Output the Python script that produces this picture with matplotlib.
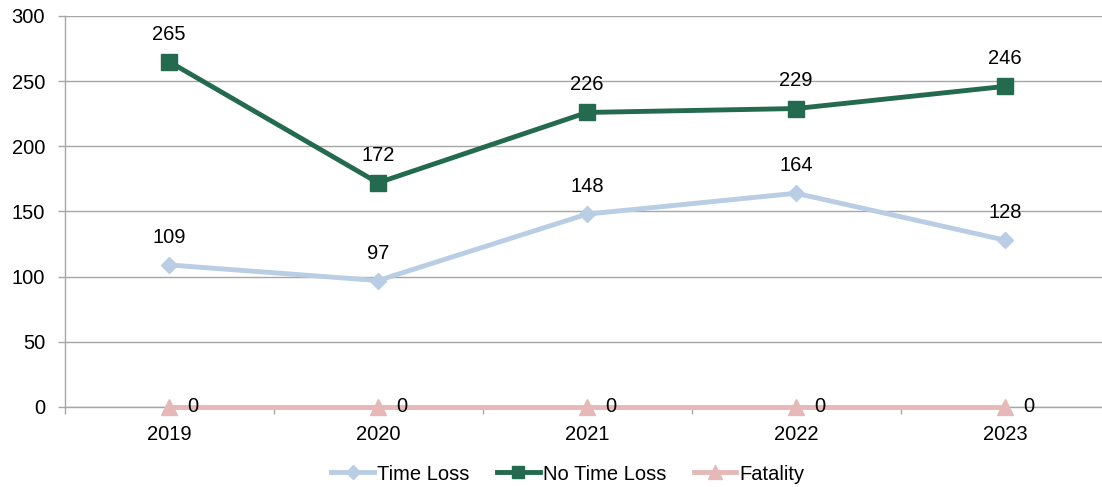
import matplotlib
matplotlib.use("Agg")
import matplotlib.pyplot as plt
from matplotlib.ticker import FixedLocator

plt.rcParams['font.family'] = ['Liberation Sans', 'DejaVu Sans']

years = ["2019", "2020", "2021", "2022", "2023"]
time_loss = [109, 97, 148, 164, 128]
no_time_loss = [265, 172, 226, 229, 246]
fatality = [0, 0, 0, 0, 0]

c_tl = "#B9CDE5"
c_ntl = "#236A4E"
c_fat = "#E6B9B8"
grid_c = "#A6A6A6"
fs = 14.5

fig = plt.figure(figsize=(11.02, 4.87), dpi=100)
W, H = 1102, 487
left, right, top, bottom = 64.5, 1109.5, 16, 407
ax = fig.add_axes([left / W, (H - bottom) / H, (right - left) / W, (bottom - top) / H])

x = list(range(len(years)))
ax.plot(x, fatality, color=c_fat, lw=3.5, marker='^', ms=12, label="Fatality", zorder=3, clip_on=False)
ax.plot(x, time_loss, color=c_tl, lw=3.5, marker='D', ms=8, label="Time Loss", zorder=4)
ax.plot(x, no_time_loss, color=c_ntl, lw=3.5, marker='s', ms=11, label="No Time Loss", zorder=5)

ax.set_xlim(-0.5, len(years) - 0.5)
ax.set_ylim(0, 300)
ax.set_yticks(range(0, 301, 50))
ax.set_xticks(x)
ax.set_xticklabels(years)
ax.xaxis.set_minor_locator(FixedLocator([i - 0.5 for i in range(len(years) + 1)]))
ax.tick_params(axis='x', which='major', length=0, pad=13, labelsize=fs)
ax.tick_params(axis='x', which='minor', length=5, color=grid_c, width=1)
ax.tick_params(axis='y', length=5, color=grid_c, width=1, labelsize=fs, pad=9)

ax.grid(axis='y', color=grid_c, lw=1)
ax.set_axisbelow(True)
for s in ['top', 'right']:
    ax.spines[s].set_visible(False)
for s in ['left', 'bottom']:
    ax.spines[s].set_color(grid_c)
    ax.spines[s].set_linewidth(1)
    ax.spines[s].set_zorder(1)

for xi, v in zip(x, time_loss):
    ax.annotate(str(v), (xi, v), xytext=(0, 13), textcoords='offset points',
                ha='center', va='bottom', fontsize=fs)
for xi, v in zip(x, no_time_loss):
    ax.annotate(str(v), (xi, v), xytext=(0, 13), textcoords='offset points',
                ha='center', va='bottom', fontsize=fs)
for xi, v in zip(x, fatality):
    ax.annotate(str(v), (xi, v), xytext=(13, 0), textcoords='offset points',
                ha='left', va='center', fontsize=fs)

handles, labels = ax.get_legend_handles_labels()
order = [1, 2, 0]
fig.legend([handles[i] for i in order], [labels[i] for i in order],
           loc='center', bbox_to_anchor=(568 / W, (H - 474) / H), ncol=3, frameon=False,
           fontsize=fs, handlelength=2.1, columnspacing=1.4, handletextpad=0.15,
           markerscale=0.85)

fig.savefig("out.png", dpi=100)
